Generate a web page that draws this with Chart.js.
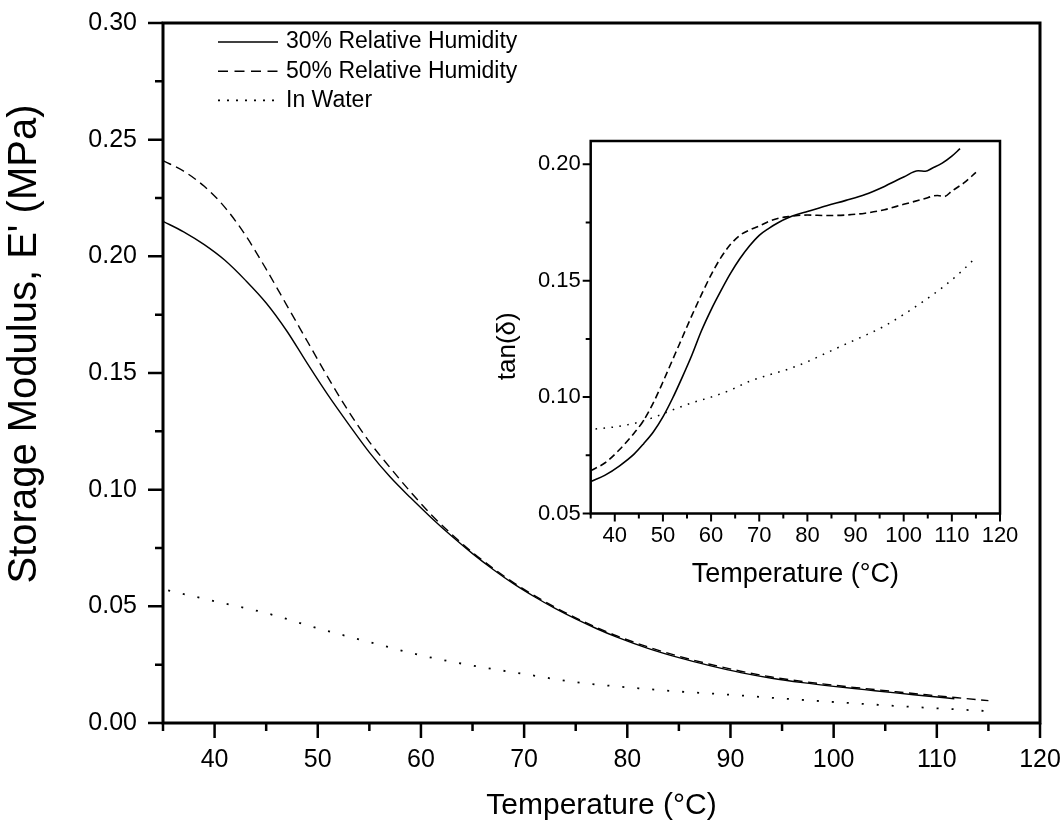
<!DOCTYPE html>
<html lang="en">
<head>
<meta charset="UTF-8">
<title>Storage modulus and tan(δ) vs temperature</title>
<script src="https://cdn.jsdelivr.net/npm/chart.js@4.4.6/dist/chart.umd.min.js"></script>
<style>
  html, body { margin: 0; padding: 0; background: #fff; }
  .wrap { position: relative; width: 1062px; height: 831px; overflow: hidden; }
  #main  { position: absolute; left: 0; top: 0; }
  #inset { position: absolute; left: 480px; top: 110px; }
</style>
</head>
<body>
<div class="wrap">
  <canvas id="main" width="1062" height="831"></canvas>
  <canvas id="inset" width="550" height="500"></canvas>
</div>
<script>
// ── Data ─────────────────────────────────────────────────────────────────────

const seriesLabels = ['30% Relative Humidity', '50% Relative Humidity', 'In Water'];

// Main plot: storage modulus E' (MPa) vs temperature (°C)
const modulusTemp30 = [35, 37, 39, 41, 43, 45, 47, 49, 51, 53, 55, 57, 59, 61, 63, 65, 67, 69, 71, 73, 75, 77, 79, 82, 85, 88, 91, 94, 97, 100, 103, 106, 109, 111.7];
const modulus30     = [0.2150, 0.2105, 0.2050, 0.1983, 0.1897, 0.1800, 0.1680, 0.1540, 0.1405, 0.1280, 0.1160, 0.1055, 0.0965, 0.0880, 0.0800, 0.0726, 0.0658, 0.0596, 0.0541, 0.0491, 0.0446, 0.0405, 0.0368, 0.0320, 0.0280, 0.0246, 0.0216, 0.0192, 0.0173, 0.0157, 0.0143, 0.0129, 0.0116, 0.0104];

const modulusTemp50 = [35, 37, 39, 41, 43, 45, 47, 49, 51, 53, 55, 57, 59, 61, 63, 65, 67, 69, 71, 73, 75, 77, 79, 82, 85, 88, 91, 94, 97, 100, 103, 106, 109, 112, 115];
const modulus50     = [0.2410, 0.2365, 0.2300, 0.2210, 0.2090, 0.1945, 0.1790, 0.1635, 0.1480, 0.1335, 0.1205, 0.1095, 0.0990, 0.0893, 0.0808, 0.0731, 0.0663, 0.0601, 0.0546, 0.0496, 0.0451, 0.0410, 0.0373, 0.0326, 0.0286, 0.0252, 0.0222, 0.0197, 0.0178, 0.0162, 0.0148, 0.0134, 0.0121, 0.0108, 0.0096];

const modulusTempWater = [35.5, 40, 45, 50, 55, 60, 65, 70, 75, 80, 85, 90, 95, 100, 105, 110, 115];
const modulusWater     = [0.0568, 0.0522, 0.0471, 0.0406, 0.0347, 0.0290, 0.0246, 0.0210, 0.0175, 0.0153, 0.0135, 0.0121, 0.0105, 0.0090, 0.0076, 0.0063, 0.0051];

// Inset: tan(δ) vs temperature (°C)
const tanTemp30 = [35, 38, 41, 44, 46, 48, 50, 52, 54, 56, 58, 60, 62, 64, 66, 68, 70, 72, 74, 76, 78, 80, 84, 88, 92, 96, 100, 103, 104.5, 106, 108, 110, 111.7];
const tan30     = [0.0637, 0.0665, 0.0705, 0.0755, 0.0800, 0.0850, 0.0915, 0.0995, 0.1085, 0.1180, 0.1285, 0.1375, 0.1455, 0.1530, 0.1595, 0.1650, 0.1695, 0.1725, 0.1750, 0.1770, 0.1785, 0.1797, 0.1822, 0.1845, 0.1870, 0.1905, 0.1945, 0.1972, 0.1970, 0.1984, 0.2005, 0.2035, 0.2067];

const tanTemp50 = [35, 38, 41, 44, 46, 48, 50, 52, 54, 56, 58, 60, 62, 64, 66, 68, 70, 72, 74, 76, 78, 80, 84, 88, 92, 96, 100, 104, 107, 108.5, 110, 112.5, 115];
const tan50     = [0.0684, 0.0718, 0.0775, 0.0845, 0.0900, 0.0975, 0.1065, 0.1160, 0.1255, 0.1350, 0.1440, 0.1525, 0.1598, 0.1655, 0.1695, 0.1718, 0.1735, 0.1755, 0.1768, 0.1775, 0.1780, 0.1782, 0.1780, 0.1782, 0.1790, 0.1805, 0.1828, 0.1850, 0.1866, 0.1862, 0.1885, 0.1920, 0.1965];

const tanTempWater = [36, 40, 44, 48, 52, 56, 60, 64, 68, 72, 76, 80, 84, 88, 92, 96, 100, 104, 108, 112, 114.5];
const tanWater     = [0.0863, 0.0872, 0.0887, 0.0912, 0.0945, 0.0975, 0.1000, 0.1030, 0.1068, 0.1095, 0.1120, 0.1152, 0.1190, 0.1228, 0.1265, 0.1305, 0.1355, 0.1410, 0.1470, 0.1540, 0.1590];

// Ticks
const mainXTicks = [40, 50, 60, 70, 80, 90, 100, 110, 120];
const mainXMinor = [35, 45, 55, 65, 75, 85, 95, 105, 115];
const mainYTicks = [0, 0.05, 0.10, 0.15, 0.20, 0.25, 0.30];
const mainYMinor = [0.025, 0.075, 0.125, 0.175, 0.225, 0.275];
const insetXTicks = [40, 50, 60, 70, 80, 90, 100, 110, 120];
const insetXMinor = [35, 45, 55, 65, 75, 85, 95, 105, 115];
const insetYTicks = [0.05, 0.10, 0.15, 0.20];
const insetYMinor = [0.075, 0.125, 0.175];

// ── Helpers ──────────────────────────────────────────────────────────────────

const FONT = "'Liberation Sans', Arial, Helvetica, sans-serif";
Chart.defaults.font.family = FONT;
Chart.defaults.color = '#000';

const pts = (xs, ys) => xs.map((x, i) => ({ x, y: ys[i] }));

function line(label, xs, ys, dash, width) {
  return {
    label,
    data: pts(xs, ys),
    borderColor: '#000',
    borderWidth: width,
    borderDash: dash,
    borderCapStyle: 'butt',
    pointRadius: 0,
    fill: false,
    cubicInterpolationMode: 'monotone',
  };
}

// fixed axis boxes, so the plot frame lands where the original has it
const fixX = h => s => { s.height = h; s.paddingLeft = 0; s.paddingRight = 0; };
const fixY = w => s => { s.width = w; s.paddingTop = 0; s.paddingBottom = 0; };

// frame box, major/minor ticks and the rotated y title, placed through the chart's own scales
function frameTicks(o) {
  return {
    id: 'frameTicks',
    afterDraw(chart) {
      const { ctx, chartArea: a, scales: { x, y } } = chart;
      ctx.save();
      ctx.strokeStyle = '#000';
      ctx.lineCap = 'butt';
      ctx.lineWidth = o.tickWidth;
      ctx.beginPath();
      const mark = (scale, values, len) => values.forEach(v => {
        const p = scale.getPixelForValue(v);
        if (scale.isHorizontal()) { ctx.moveTo(p, a.bottom); ctx.lineTo(p, a.bottom + len); }
        else { ctx.moveTo(a.left, p); ctx.lineTo(a.left - len, p); }
      });
      mark(x, o.xMajor, o.major);
      mark(x, o.xMinor, o.minor);
      mark(y, o.yMajor, o.major);
      mark(y, o.yMinor, o.minor);
      ctx.stroke();
      ctx.lineWidth = o.frameWidth;
      ctx.strokeRect(a.left, a.top, a.right - a.left, a.bottom - a.top);

      // y title (sits a bit above the axis middle in the original)
      ctx.fillStyle = '#000';
      ctx.font = o.titleSize + 'px ' + FONT;
      ctx.textAlign = 'center';
      ctx.textBaseline = 'middle';
      ctx.translate(o.titleX, (a.top + a.bottom) / 2 + o.titleShift);
      ctx.rotate(-Math.PI / 2);
      ctx.fillText(o.title, 0, 0);
      ctx.restore();
    },
  };
}

const legendDash = [[], [10, 6.5], [2, 7]];
const legendInside = {
  id: 'legendInside',
  afterDraw(chart) {
    const { ctx, chartArea: a } = chart;
    ctx.save();
    ctx.strokeStyle = '#000';
    ctx.fillStyle = '#000';
    ctx.font = '23px ' + FONT;
    ctx.textBaseline = 'middle';
    ctx.textAlign = 'left';
    seriesLabels.forEach((label, i) => {
      const yy = a.top + 19 + i * 29.2;
      ctx.lineWidth = chart.data.datasets[i].borderWidth;
      ctx.setLineDash(legendDash[i]);
      ctx.beginPath();
      ctx.moveTo(a.left + 55, yy);
      ctx.lineTo(a.left + 115, yy);
      ctx.stroke();
      ctx.setLineDash([]);
      ctx.fillText(label, a.left + 123, yy);
    });
    ctx.restore();
  },
};

const hiddenGrid = (len) => ({
  display: true,
  drawOnChartArea: false,
  drawTicks: true,
  tickLength: len,
  color: 'rgba(0,0,0,0)',
  tickColor: 'rgba(0,0,0,0)',
});

// ── Main chart ───────────────────────────────────────────────────────────────

new Chart(document.getElementById('main'), {
  type: 'line',
  data: {
    datasets: [
      line(seriesLabels[0], modulusTemp30, modulus30, [], 1.4),
      line(seriesLabels[1], modulusTemp50, modulus50, [9, 5.5], 1.4),
      line(seriesLabels[2], modulusTempWater, modulusWater, [2, 13], 1.8),
    ],
  },
  options: {
    responsive: false,
    animation: false,
    devicePixelRatio: 1,
    layout: { padding: { left: 0, top: 23, right: 22, bottom: 0 } },
    plugins: { legend: { display: false }, tooltip: { enabled: false } },
    scales: {
      x: {
        type: 'linear', min: 35, max: 120,
        afterBuildTicks: s => { s.ticks = mainXTicks.map(value => ({ value })); },
        afterFit: fixX(108),
        grid: hiddenGrid(15),
        border: { display: false },
        ticks: { autoSkip: false, maxRotation: 0, padding: 7, font: { size: 25 }, callback: v => String(v) },
        title: { display: true, text: 'Temperature (°C)', font: { size: 30, lineHeight: 1.2 }, padding: { top: 0, bottom: 7 } },
      },
      y: {
        type: 'linear', min: 0, max: 0.30,
        afterBuildTicks: s => { s.ticks = mainYTicks.map(value => ({ value })); },
        afterFit: fixY(163),
        grid: hiddenGrid(15),
        border: { display: false },
        ticks: { autoSkip: false, padding: 11, font: { size: 25 }, callback: v => v.toFixed(2) },
      },
    },
  },
  plugins: [
    frameTicks({
      xMajor: mainXTicks, xMinor: mainXMinor, yMajor: mainYTicks, yMinor: mainYMinor,
      major: 15, minor: 8, tickWidth: 2.5, frameWidth: 3,
      title: "Storage Modulus, E' (MPa)", titleSize: 40, titleX: 25, titleShift: -29,
    }),
    legendInside,
  ],
});

// ── Inset chart ──────────────────────────────────────────────────────────────

new Chart(document.getElementById('inset'), {
  type: 'line',
  data: {
    datasets: [
      line(seriesLabels[0], tanTemp30, tan30, [], 1.6),
      line(seriesLabels[1], tanTemp50, tan50, [7, 4], 1.6),
      line(seriesLabels[2], tanTempWater, tanWater, [1.6, 6.4], 1.5),
    ],
  },
  options: {
    responsive: false,
    animation: false,
    devicePixelRatio: 1,
    layout: { padding: { left: 0, top: 31, right: 30, bottom: 0 } },
    plugins: { legend: { display: false }, tooltip: { enabled: false } },
    scales: {
      x: {
        type: 'linear', min: 35, max: 120,
        afterBuildTicks: s => { s.ticks = insetXTicks.map(value => ({ value })); },
        afterFit: fixX(96.5),
        grid: hiddenGrid(8),
        border: { display: false },
        ticks: { autoSkip: false, maxRotation: 0, padding: 1, font: { size: 22 }, callback: v => String(v) },
        title: { display: true, text: 'Temperature (°C)', font: { size: 27, lineHeight: 1.2 }, padding: { top: 0, bottom: 19 } },
      },
      y: {
        type: 'linear', min: 0.05, max: 0.21,
        afterBuildTicks: s => { s.ticks = insetYTicks.map(value => ({ value })); },
        afterFit: fixY(110.7),
        grid: hiddenGrid(8),
        border: { display: false },
        ticks: { autoSkip: false, padding: 2, font: { size: 22 }, callback: v => v.toFixed(2) },
      },
    },
  },
  plugins: [
    frameTicks({
      xMajor: insetXTicks, xMinor: insetXMinor, yMajor: insetYTicks, yMinor: insetYMinor,
      major: 8, minor: 5, tickWidth: 2, frameWidth: 2.5,
      title: 'tan(δ)', titleSize: 26, titleX: 28, titleShift: 19,
    }),
  ],
});
</script>
</body>
</html>
